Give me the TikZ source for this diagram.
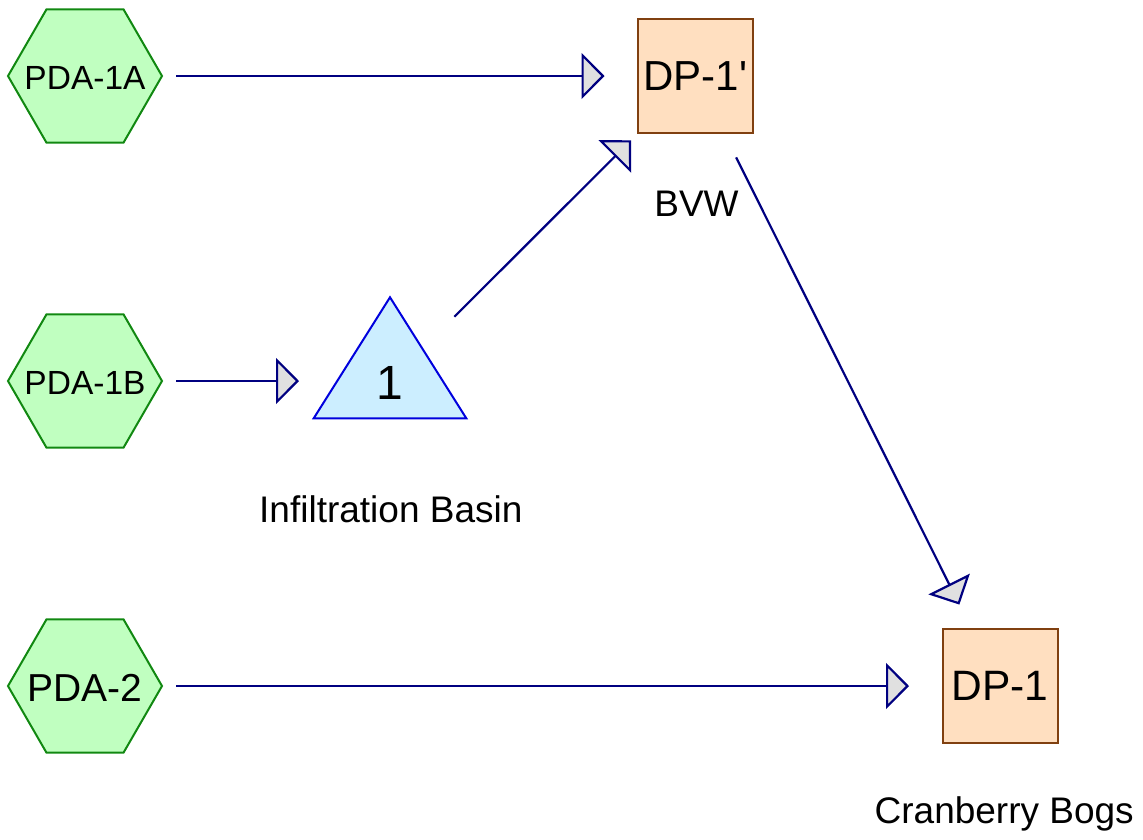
\documentclass[tikz,border=0pt]{standalone}
\usepackage{fontspec}
\setmainfont{Liberation Sans}
\newfontfamily\nomapfont{Liberation Sans}
\usetikzlibrary{arrows.meta,shapes.geometric}
\definecolor{hexfill}{HTML}{C0FFC0}
\definecolor{hexdraw}{HTML}{118811}
\definecolor{boxfill}{HTML}{FFDFC0}
\definecolor{boxdraw}{HTML}{804010}
\definecolor{trifill}{HTML}{CCEEFF}
\definecolor{tridraw}{HTML}{0000DD}
\definecolor{linecol}{HTML}{000080}
\definecolor{tipfill}{HTML}{E0E0E0}
\tikzset{
  hexnode/.style={regular polygon, regular polygon sides=6, minimum size=154pt,
    inner sep=0pt, fill=hexfill, draw=hexdraw, line width=2pt},
  boxnode/.style={rectangle, minimum width=115pt, minimum height=114pt,
    inner sep=0pt, fill=boxfill, draw=boxdraw, line width=2pt},
  triangleshape/.style={fill=trifill, draw=tridraw, line width=2pt, line join=miter},
  lbl/.style={inner sep=0pt, anchor=base, font=\fontsize{37}{44}\selectfont},
  flow/.style={draw=linecol, line width=2.2pt, shorten <=91pt, shorten >=91pt,
    -{Triangle[length=23pt,width=46pt,fill=tipfill]}},
}
\begin{document}
\begin{tikzpicture}[x=1pt,y=-1pt]
\useasboundingbox (0,0) rectangle (1143,839);
% nodes
\node[hexnode, label={[inner sep=0pt, yshift=-1.5pt, font=\fontsize{33.5}{40}\selectfont]center:PDA-1A}] (pda1a) at (85,76) {};
\node[hexnode, label={[inner sep=0pt, yshift=-1.5pt, font=\fontsize{33.5}{40}\selectfont]center:PDA-1B}] (pda1b) at (85,381) {};
\node[hexnode, label={[inner sep=0pt, yshift=-1.5pt, font=\fontsize{39}{46}\selectfont]center:PDA-2}] (pda2) at (85,686) {};
\node[boxnode, font=\nomapfont\fontsize{42}{50}\selectfont] (dp1p) at (695.5,76) {DP-1'};
\node[boxnode, font=\fontsize{42.5}{50}\selectfont] (dp1) at (1000,686) {DP-1};
\coordinate (tric) at (390,381);
\path[triangleshape] (tric) ++(0,-83.7) -- ++(76.3,121) -- ++(-152.6,0) -- cycle;
\node[inner sep=0pt, font=\fontsize{48}{56}\selectfont] (tri) at (390,383) {1};
% labels
\node[lbl] (bvw) at (696.5,216) {BVW};
\node[lbl] (infil) at (390.8,522.7) {Infiltration Basin};
\node[lbl] (cran) at (1004.2,823.3) {Cranberry Bogs};
% connectors
\draw[flow] (pda1a.center) -- (dp1p.center);
\draw[flow] (pda1b.center) -- (tric);
\draw[flow] (tric) -- (dp1p.center);
\draw[flow] (dp1p.center) -- (dp1.center);
\draw[flow] (pda2.center) -- (dp1.center);
\end{tikzpicture}
\end{document}
